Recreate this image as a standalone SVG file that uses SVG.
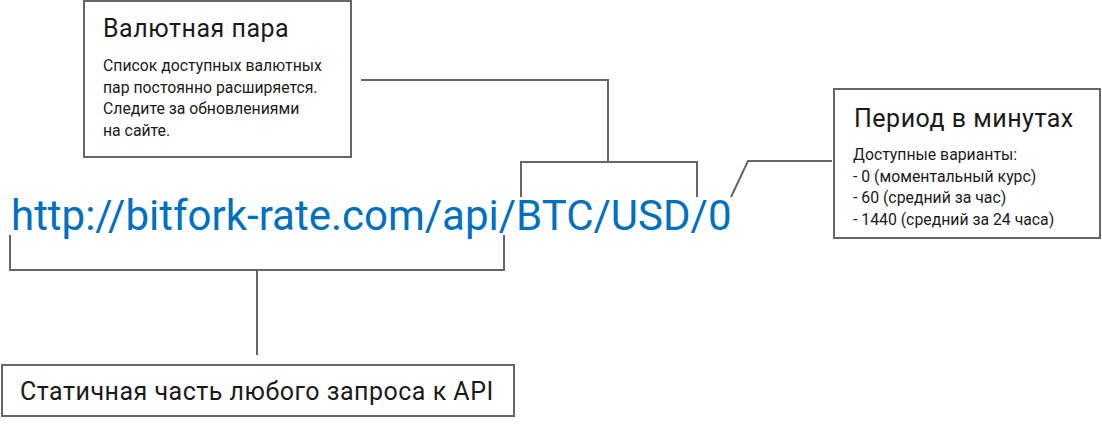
<svg xmlns="http://www.w3.org/2000/svg" width="1102" height="431" viewBox="0 0 1102 431">
<style>
.box{fill:#fff;stroke:#666;stroke-width:2}
.ln{fill:none;stroke:#666;stroke-width:2}
.t{font-family:Roboto,"Liberation Sans",sans-serif;fill:#1a1a1a}
.h{font-size:25px;letter-spacing:0.5px}
.b{font-size:15.8px}
.url{font-family:Roboto,"Liberation Sans",sans-serif;font-size:42px;fill:#0070c0}
</style>
<rect width="1102" height="431" fill="#fff"/>
<g id="connectors">
<polyline class="ln" points="361,80 608,80 608,162"/>
<polyline class="ln" points="521,197 521,162 697,162 697,197"/>
<polyline class="ln" points="731,197 748,161 832,161"/>
<polyline class="ln" points="10,235 10,270 504,270 504,235"/>
<line class="ln" x1="257" y1="270" x2="257" y2="355"/>
</g>
<g id="node-pair">
<rect class="box" x="84" y="1" width="267" height="156"/>
<text class="t h" x="103" y="37">Валютная пара</text>
<text class="t b" x="103" y="71">Список доступных валютных</text>
<text class="t b" x="103" y="92.5">пар постоянно расширяется.</text>
<text class="t b" x="103" y="114">Следите за обновлениями</text>
<text class="t b" x="103" y="135.5">на сайте.</text>
</g>
<g id="node-period">
<rect class="box" x="834" y="89" width="266" height="149"/>
<text class="t h" x="854" y="126.5">Период в минутах</text>
<text class="t b" x="853" y="160">Доступные варианты:</text>
<text class="t b" x="853" y="181.5">- 0 (моментальный курс)</text>
<text class="t b" x="853" y="203">- 60 (средний за час)</text>
<text class="t b" x="853" y="224.5">- 1440 (средний за 24 часа)</text>
</g>
<g id="node-url">
<text class="url" x="11" y="229.5">http://bitfork-rate.com/api/BTC/USD/0</text>
</g>
<g id="node-static">
<rect class="box" x="2" y="365" width="512" height="51"/>
<text class="t h" x="20" y="400">Статичная часть любого запроса к API</text>
</g>
</svg>
